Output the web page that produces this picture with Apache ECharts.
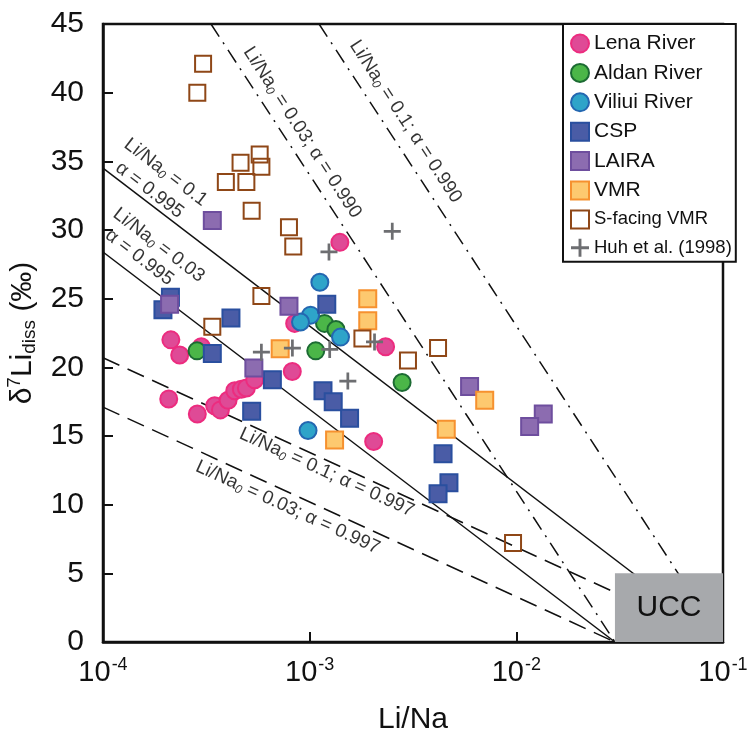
<!DOCTYPE html>
<html>
<head>
<meta charset="utf-8">
<script src="https://cdn.jsdelivr.net/npm/echarts@6/dist/echarts.min.js"></script>
<style>
  html, body { margin: 0; background: #fff; }
  #chart { width: 749px; height: 731px; }
</style>
</head>
<body>
<div id="chart"></div>
<script>
// Li/Na vs d7Li (dissolved)
const lenaRiver = [
  [2.13e-4, 22.0], [2.35e-4, 20.9], [2.99e-4, 21.5], [2.08e-4, 17.7], [2.86e-4, 16.6],
  [3.47e-4, 17.2], [3.70e-4, 16.9], [4.03e-4, 17.6], [4.34e-4, 18.3], [4.67e-4, 18.4],
  [4.94e-4, 18.5], [5.42e-4, 19.1], [8.24e-4, 19.7], [8.46e-4, 23.2], [1.40e-3, 29.1],
  [2.04e-3, 14.6], [2.33e-3, 21.5]
];
const aldanRiver = [[2.85e-4, 21.2], [1.18e-3, 23.2], [1.34e-3, 22.75], [1.07e-3, 21.2], [2.80e-3, 18.9]];
const viliuiRiver = [[1.12e-3, 26.2], [1.01e-3, 23.8], [9.03e-4, 23.3], [1.41e-3, 22.2], [9.82e-4, 15.4]];
const csp = [
  [2.12e-4, 25.1], [1.95e-4, 24.2], [4.16e-4, 23.6], [3.38e-4, 21.0], [6.60e-4, 19.1],
  [5.24e-4, 16.8], [1.21e-3, 24.6], [1.16e-3, 18.3], [1.30e-3, 17.5], [1.56e-3, 16.3],
  [4.42e-3, 13.7], [4.72e-3, 11.6], [4.18e-3, 10.8]
];
const laira = [[3.38e-4, 30.7], [2.10e-4, 24.6], [7.94e-4, 24.45], [5.37e-4, 19.96], [5.94e-3, 18.6], [1.35e-2, 16.6], [1.16e-2, 15.7]];
const vmr = [[1.91e-3, 25.0], [1.91e-3, 23.4], [7.2e-4, 21.35], [1.32e-3, 14.7], [4.58e-3, 15.5], [7.03e-3, 17.6]];
const sFacingVmr = [
  [3.05e-4, 42.1], [2.86e-4, 40.0], [5.73e-4, 35.5], [4.63e-4, 34.9], [5.84e-4, 34.6],
  [3.93e-4, 33.5], [4.94e-4, 33.5], [5.24e-4, 31.4], [7.94e-4, 30.2], [8.33e-4, 28.8],
  [5.84e-4, 25.2], [3.38e-4, 22.95], [1.80e-3, 22.1], [2.99e-3, 20.5], [4.18e-3, 21.4],
  [9.64e-3, 7.2]
];
const huh1998 = [[2.51e-3, 29.9], [1.24e-3, 28.4], [5.84e-4, 21.1], [8.25e-4, 21.4], [1.25e-3, 21.3], [2.06e-3, 21.85], [1.53e-3, 19.0]];

// Rayleigh model lines (end points)
const modelSolid01 = [[1e-4, 34.5], [0.1, 0]];
const modelSolid003 = [[1e-4, 28.4], [0.03, 0]];
const modelDash01 = [[1e-4, 20.7], [0.1, 0]];
const modelDash003 = [[1e-4, 17.1], [0.03, 0]];
const modelDashDot003 = [[3.33e-4, 45], [0.03, 0]];
const modelDashDot01 = [[1.11e-3, 45], [0.1, 0]];

// UCC box
const uccX = [0.03, 0.1];
const uccY = [0, 5];

const yTicks = [0, 45, 5]; // min, max, step

const FONT = 'Liberation Sans, Arial, sans-serif';

const labelRich = {
  t: { fontSize: 19, fontFamily: FONT, color: '#000' },
  sub: { fontSize: 12, fontFamily: FONT, fontStyle: 'italic', color: '#000', padding: [9, 0, 0, 0] }
};
const liNa = v => '{t|Li/Na}{sub|0}{t| = ' + v + '}';

const modelLabels = [
  { x: 2.01e-4, y: 34.2, angle: -37.4, text: liNa('0.1') },
  { x: 1.68e-4, y: 32.9, angle: -37.4, text: '{t|\u03b1 = 0.995}' },
  { x: 1.86e-4, y: 28.9, angle: -37.4, text: liNa('0.03') },
  { x: 1.50e-4, y: 28.0, angle: -37.4, text: '{t|\u03b1 = 0.995}' },
  { x: 9.2e-4, y: 37.1, angle: -56.8, text: liNa('0.03;') + '{t| \u03b1 = 0.990}' },
  { x: 2.91e-3, y: 37.9, angle: -56.8, text: liNa('0.1;') + '{t| \u03b1 = 0.990}' },
  { x: 1.21e-3, y: 12.35, angle: -24.6, text: liNa('0.1;') + '{t| \u03b1 = 0.997}' },
  { x: 7.83e-4, y: 9.8, angle: -24.6, text: liNa('0.03;') + '{t| \u03b1 = 0.997}' }
];

function modelLine(data, type) {
  return {
    type: 'line', data: data, symbol: 'none', silent: true, z: 2,
    lineStyle: { color: '#111', width: 1.5, type: type },
    animation: false
  };
}

function points(name, data, symbol, size, fill, border, bw) {
  return {
    name: name, type: 'scatter', data: data, symbol: symbol, symbolSize: size, z: 4,
    itemStyle: { color: fill, borderColor: border, borderWidth: bw, opacity: 1 },
    animation: false
  };
}

const plusPath = 'path://M4.2,0h1.6v4.2h4.2v1.6h-4.2v4.2h-1.6v-4.2h-4.2v-1.6h4.2z';

const chart = echarts.init(document.getElementById('chart'));
chart.setOption({
  backgroundColor: '#fff',
  animation: false,
  grid: {
    left: 103, right: 26, top: 24, bottom: 89, containLabel: false, outerBoundsMode: 'none',
    show: true, borderColor: '#111', borderWidth: 2.5
  },
  xAxis: {
    type: 'log', logBase: 10, min: 1e-4, max: 0.1,
    name: 'Li/Na', nameLocation: 'middle', nameGap: 63,
    nameTextStyle: { fontSize: 30, fontFamily: FONT, color: '#111' },
    axisLine: { lineStyle: { color: '#111', width: 2.5 } },
    axisTick: { inside: true, length: 10, lineStyle: { color: '#111', width: 2 } },
    minorTick: { show: false },
    splitLine: { show: false },
    axisLabel: {
      margin: 14,
      formatter: v => '{b|10}{s|' + Math.round(Math.log10(v)) + '}',
      rich: {
        b: { fontSize: 29, fontFamily: FONT, color: '#111' },
        s: { fontSize: 18, fontFamily: FONT, color: '#111', padding: [0, 0, 16, 1] }
      }
    }
  },
  yAxis: {
    type: 'value', min: yTicks[0], max: yTicks[1], interval: yTicks[2],
    name: '{a|\u03b4}{sup|7}{a|Li}{sub|diss}{a| (\u2030)}',
    nameLocation: 'middle', nameGap: 58, nameRotate: 90,
    nameTextStyle: {
      rich: {
        a: { fontSize: 30, fontFamily: FONT, color: '#111' },
        sup: { fontSize: 19, fontFamily: FONT, color: '#111', padding: [0, 0, 16, 0] },
        sub: { fontSize: 19, fontFamily: FONT, color: '#111', padding: [14, 0, 0, 0] }
      }
    },
    axisLine: { lineStyle: { color: '#111', width: 2.5 } },
    axisTick: { inside: true, length: 10, lineStyle: { color: '#111', width: 2 } },
    splitLine: { show: false },
    axisLabel: { fontSize: 30, fontFamily: FONT, color: '#111', margin: 19 }
  },
  legend: {
    orient: 'vertical', left: 563, top: 24,
    padding: [9, 4, 4, 7], itemGap: 8.4, itemWidth: 18, itemHeight: 18,
    borderColor: '#111', borderWidth: 2, backgroundColor: '#fff',
    textStyle: { fontSize: 21, fontFamily: FONT, color: '#111', lineHeight: 20 },
    data: [
      'Lena River', 'Aldan River', 'Viliui River', 'CSP', 'LAIRA', 'VMR',
      { name: 'S-facing VMR', textStyle: { fontSize: 18.5 } },
      { name: 'Huh et al. (1998)', textStyle: { fontSize: 18.5 } }
    ]
  },
  series: [
    modelLine(modelSolid01, 'solid'),
    modelLine(modelSolid003, 'solid'),
    modelLine(modelDash01, [18, 9]),
    modelLine(modelDash003, [18, 9]),
    modelLine(modelDashDot003, [15, 7, 2, 7]),
    modelLine(modelDashDot01, [15, 7, 2, 7]),
    {
      type: 'custom', silent: true, z: 3, animation: false,
      data: [[uccX[0], uccY[1], uccX[1], uccY[0]]],
      renderItem: (params, api) => {
        const p0 = api.coord([api.value(0), api.value(1)]);
        const p1 = api.coord([api.value(2), api.value(3)]);
        return {
          type: 'rect',
          shape: { x: p0[0], y: p0[1], width: p1[0] - p0[0], height: p1[1] - p0[1] },
          style: {
            fill: '#a7a9ac', text: 'UCC', textFill: '#111',
            fontSize: 30, fontFamily: FONT, textPosition: 'inside'
          }
        };
      }
    },
    {
      type: 'scatter', silent: true, z: 3, symbolSize: 0, animation: false,
      data: modelLabels.map(l => ({
        value: [l.x, l.y],
        label: {
          show: true, position: 'inside', rotate: l.angle, formatter: l.text, rich: labelRich,
          color: '#000', textBorderWidth: 0
        }
      }))
    },
    points('Lena River', lenaRiver, 'circle', 17, '#df4a96', '#ec2c7f', 2),
    points('Aldan River', aldanRiver, 'circle', 17, '#4bb648', '#1c6b33', 2),
    points('Viliui River', viliuiRiver, 'circle', 17, '#2ea4c9', '#2467b1', 2),
    points('CSP', csp, 'rect', 17, '#4a5ca6', '#2a4f9f', 2),
    points('LAIRA', laira, 'rect', 17, '#8c6cb0', '#6e4e9e', 2),
    points('VMR', vmr, 'rect', 17, '#fdc96f', '#f6912f', 2),
    points('S-facing VMR', sFacingVmr, 'rect', 16, 'rgba(255,255,255,0)', '#8f4717', 2),
    points('Huh et al. (1998)', huh1998, plusPath, 17, '#6d6e71', '#6d6e71', 0)
  ]
});
</script>
</body>
</html>
